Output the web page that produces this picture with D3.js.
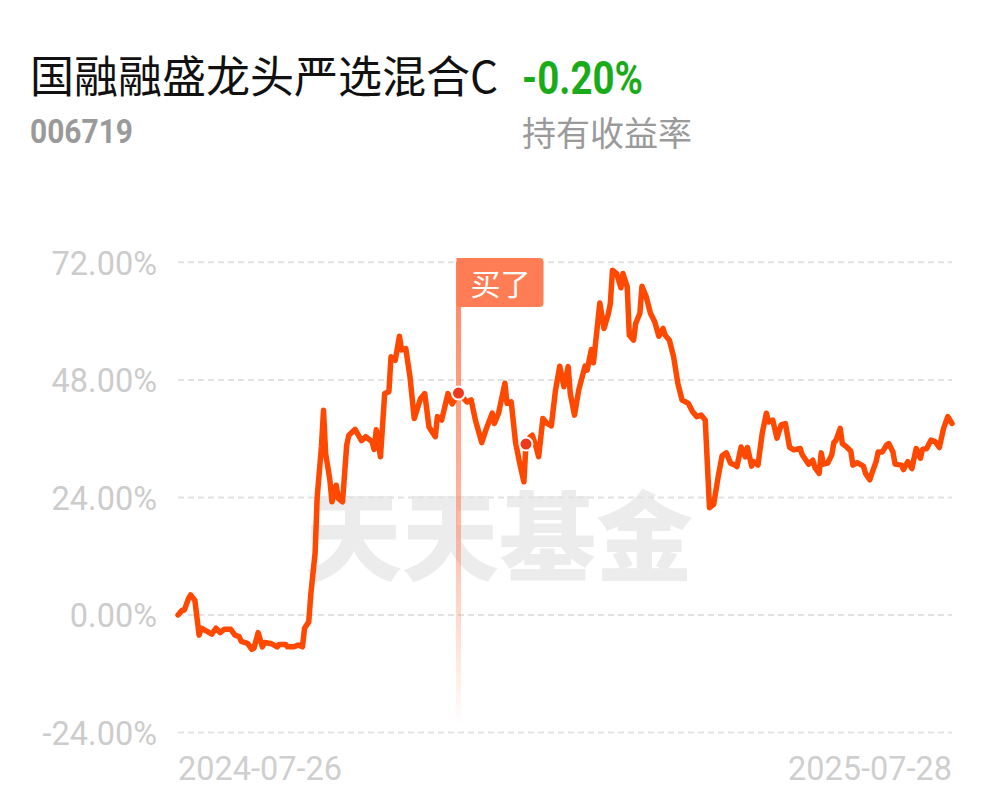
<!DOCTYPE html>
<html><head><meta charset="utf-8">
<script src="https://cdn.jsdelivr.net/npm/d3@7"></script>
<style>body{margin:0;background:#fff}svg{display:block}</style>
</head><body><svg id="c" width="997" height="802"></svg>
<script>
const titleText = "国融融盛龙头严选混合C";
const fundCode = "006719";
const holdReturn = "-0.20%";
const holdReturnLabel = "持有收益率";
const watermark = "天天基金";
const buyLabel = "买了";

const dates = ["2024-07-26","2024-07-28","2024-07-29","2024-07-31","2024-08-01","2024-08-03","2024-08-05","2024-08-06","2024-08-09","2024-08-11","2024-08-13","2024-08-15","2024-08-17","2024-08-20","2024-08-22","2024-08-24","2024-08-25","2024-08-28","2024-08-30","2024-08-31","2024-09-02","2024-09-04","2024-09-05","2024-09-08","2024-09-11","2024-09-12","2024-09-15","2024-09-16","2024-09-19","2024-09-21","2024-09-23","2024-09-24","2024-09-26","2024-09-27","2024-09-29","2024-09-30","2024-10-02","2024-10-03","2024-10-04","2024-10-06","2024-10-07","2024-10-09","2024-10-10","2024-10-12","2024-10-14","2024-10-15","2024-10-18","2024-10-21","2024-10-23","2024-10-26","2024-10-27","2024-10-28","2024-10-30","2024-11-01","2024-11-03","2024-11-04","2024-11-06","2024-11-08","2024-11-09","2024-11-11","2024-11-13","2024-11-15","2024-11-18","2024-11-20","2024-11-22","2024-11-25","2024-11-26","2024-11-28","2024-12-01","2024-12-03","2024-12-06","2024-12-10","2024-12-12","2024-12-14","2024-12-17","2024-12-19","2024-12-22","2024-12-23","2024-12-25","2024-12-28","2024-12-29","2024-12-31","2025-01-02","2025-01-04","2025-01-06","2025-01-07","2025-01-09","2025-01-10","2025-01-12","2025-01-13","2025-01-15","2025-01-17","2025-01-19","2025-01-21","2025-01-23","2025-01-25","2025-01-27","2025-01-28","2025-01-30","2025-02-01","2025-02-04","2025-02-05","2025-02-07","2025-02-08","2025-02-11","2025-02-13","2025-02-15","2025-02-16","2025-02-17","2025-02-19","2025-02-21","2025-02-22","2025-02-24","2025-02-25","2025-02-27","2025-02-28","2025-03-02","2025-03-03","2025-03-05","2025-03-07","2025-03-09","2025-03-11","2025-03-13","2025-03-14","2025-03-16","2025-03-18","2025-03-20","2025-03-22","2025-03-25","2025-03-27","2025-03-29","2025-03-31","2025-04-02","2025-04-04","2025-04-06","2025-04-08","2025-04-10","2025-04-12","2025-04-14","2025-04-16","2025-04-17","2025-04-19","2025-04-21","2025-04-22","2025-04-24","2025-04-25","2025-04-27","2025-04-29","2025-05-01","2025-05-02","2025-05-04","2025-05-06","2025-05-08","2025-05-10","2025-05-12","2025-05-14","2025-05-17","2025-05-18","2025-05-21","2025-05-23","2025-05-24","2025-05-26","2025-05-27","2025-05-28","2025-05-30","2025-06-01","2025-06-02","2025-06-03","2025-06-05","2025-06-06","2025-06-08","2025-06-10","2025-06-11","2025-06-13","2025-06-16","2025-06-17","2025-06-19","2025-06-20","2025-06-22","2025-06-23","2025-06-25","2025-06-27","2025-06-28","2025-06-30","2025-07-01","2025-07-04","2025-07-05","2025-07-07","2025-07-09","2025-07-11","2025-07-13","2025-07-14","2025-07-16","2025-07-18","2025-07-20","2025-07-22","2025-07-24","2025-07-26","2025-07-28"];

const values = [0.0,1.0,1.0,3.4,4.1,3.0,-4.1,-2.7,-3.4,-3.9,-2.7,-3.6,-2.9,-2.9,-4.1,-4.4,-5.4,-5.8,-7.0,-6.8,-3.6,-6.5,-5.6,-5.8,-6.5,-6.0,-6.0,-6.5,-6.5,-6.1,-6.5,-2.7,-1.4,4.4,12.6,24.1,34.3,41.8,33.0,27.6,23.1,26.5,23.8,23.1,34.7,36.7,37.9,35.6,36.4,35.4,33.8,37.8,32.3,45.2,45.6,52.7,52.0,56.9,54.1,54.4,48.6,40.1,44.2,45.2,38.4,36.4,40.5,39.8,45.2,43.1,45.3,43.5,43.9,39.8,35.2,37.8,41.2,39.1,41.2,47.3,43.2,43.5,35.4,31.0,27.2,34.9,36.4,36.7,34.0,32.3,40.1,39.1,38.6,45.9,50.8,46.6,50.7,45.2,40.8,45.9,50.8,50.0,54.2,51.5,63.7,58.5,61.4,63.6,70.4,69.7,66.8,69.7,67.0,57.1,56.1,59.5,61.6,67.1,65.0,61.6,59.9,56.9,58.5,57.1,56.1,52.7,47.3,43.9,43.2,41.5,40.5,40.8,39.8,21.9,22.6,27.9,32.5,33.1,31.0,30.6,30.3,34.3,32.3,34.2,30.4,31.3,30.6,37.1,41.2,39.4,39.8,36.1,38.8,39.1,34.2,33.7,34.0,32.7,30.8,31.6,30.1,28.9,33.1,30.8,31.0,32.7,35.2,35.7,38.1,35.0,34.3,33.5,30.6,31.1,30.4,28.9,27.6,28.9,31.3,33.3,33.3,34.7,35.0,33.3,30.8,30.6,29.7,31.3,29.9,34.0,32.0,33.8,34.0,35.7,35.4,34.2,38.1,40.5,39.1];

const yTicks = [72, 48, 24, 0, -24];
const xTickLabels = ["2024-07-26", "2025-07-28"];
const buyDate = "2024-12-06";
const markerDates = ["2024-12-06", "2025-01-07"];

const parse = d3.timeParse("%Y-%m-%d");
const data = dates.map((d, i) => ({date: parse(d), value: values[i]}));

const svg = d3.select("#c");
const x = d3.scaleTime().domain([parse(xTickLabels[0]), parse(xTickLabels[1])]).range([178, 952]);
const y = d3.scaleLinear().domain([-24, 72]).range([732.6, 262.3]);

const CJK = "'Noto Sans CJK SC','Noto Sans',sans-serif";
const NUM = "Roboto,'Noto Sans',sans-serif";

// header
svg.append("text").attr("x", 30).attr("y", 93).attr("font-family", CJK).attr("font-size", 44)
  .attr("fill", "#111").text(titleText);
svg.append("text").attr("x", 522).attr("y", 94).attr("font-family", NUM).attr("font-weight", 700)
  .attr("font-size", 47).attr("fill", "#1aab1a").attr("textLength", 121).attr("lengthAdjust", "spacingAndGlyphs").text(holdReturn);
svg.append("text").attr("x", 30).attr("y", 143).attr("font-family", NUM).attr("font-weight", 700)
  .attr("font-size", 34).attr("fill", "#9a9a9a").attr("textLength", 103).attr("lengthAdjust", "spacingAndGlyphs").text(fundCode);
svg.append("text").attr("x", 522).attr("y", 146).attr("font-family", CJK).attr("font-size", 34)
  .attr("fill", "#9a9a9a").text(holdReturnLabel);

// watermark
svg.append("text").attr("x", 499).attr("y", 573).attr("text-anchor", "middle").attr("font-family", CJK)
  .attr("font-weight", 900).attr("font-size", 97).attr("fill", "#ececec").text(watermark);

// grid
const grid = svg.append("g");
grid.selectAll("line").data(yTicks).join("line")
  .attr("x1", 178).attr("x2", 952).attr("y1", d => y(d)).attr("y2", d => y(d))
  .attr("stroke", "#e2e2e2").attr("stroke-width", 2).attr("stroke-dasharray", "6,4");

// y axis
const yAxis = d3.axisLeft(y).tickValues(yTicks).tickSize(0).tickPadding(0).tickFormat(d => d.toFixed(2) + "%");
const ya = svg.append("g").attr("transform", "translate(157,0)").call(yAxis);
ya.select(".domain").remove();
ya.selectAll("text").attr("font-family", NUM).attr("font-size", 32.5).attr("fill", "#cccccc").attr("dy", "0.36em");

// x labels
svg.selectAll(".xl").data(xTickLabels).join("text").attr("class", "xl")
  .attr("x", d => x(parse(d))).attr("y", 780)
  .attr("text-anchor", (d, i) => i === 0 ? "start" : "end")
  .attr("font-family", NUM).attr("font-size", 32.5).attr("fill", "#cfcfcf").text(d => d);

// buy marker pole
const defs = svg.append("defs");
const grad = defs.append("linearGradient").attr("id", "pole").attr("x1", 0).attr("y1", 0).attr("x2", 0).attr("y2", 1);
grad.append("stop").attr("offset", 0).attr("stop-color", "#ff7d55").attr("stop-opacity", 0.95);
grad.append("stop").attr("offset", 0.55).attr("stop-color", "#ff7d55").attr("stop-opacity", 0.55);
grad.append("stop").attr("offset", 1).attr("stop-color", "#ff7d55").attr("stop-opacity", 0);
const bx = x(parse(buyDate));
svg.append("rect").attr("x", bx - 2.5).attr("y", 262).attr("width", 5).attr("height", 465).attr("fill", "url(#pole)");

// line
svg.append("path").datum(data)
  .attr("d", d3.line().x(d => x(d.date)).y(d => y(d.value)))
  .attr("fill", "none").attr("stroke", "#ff4800").attr("stroke-width", 5.5)
  .attr("stroke-linejoin", "round").attr("stroke-linecap", "round");

// flag
svg.append("path")
  .attr("d", `M${bx - 2},258 H${bx + 81} a4,4 0 0 1 4,4 V303 a4,4 0 0 1 -4,4 H${bx - 2} Z`)
  .attr("fill", "#ff7d55");
svg.append("text").attr("x", bx + 42).attr("y", 284).attr("dy", "0.35em").attr("text-anchor", "middle")
  .attr("font-family", CJK).attr("font-size", 30).attr("fill", "#fff").text(buyLabel);

// marker dots
const mk = markerDates.map(s => data.find(d => +d.date === +parse(s)));
svg.selectAll(".dot").data(mk).join("circle").attr("class", "dot")
  .attr("cx", d => x(d.date)).attr("cy", d => y(d.value)).attr("r", 6.5)
  .attr("fill", "#ee3a1c").attr("stroke", "#fff").attr("stroke-width", 2);
</script></body></html>
